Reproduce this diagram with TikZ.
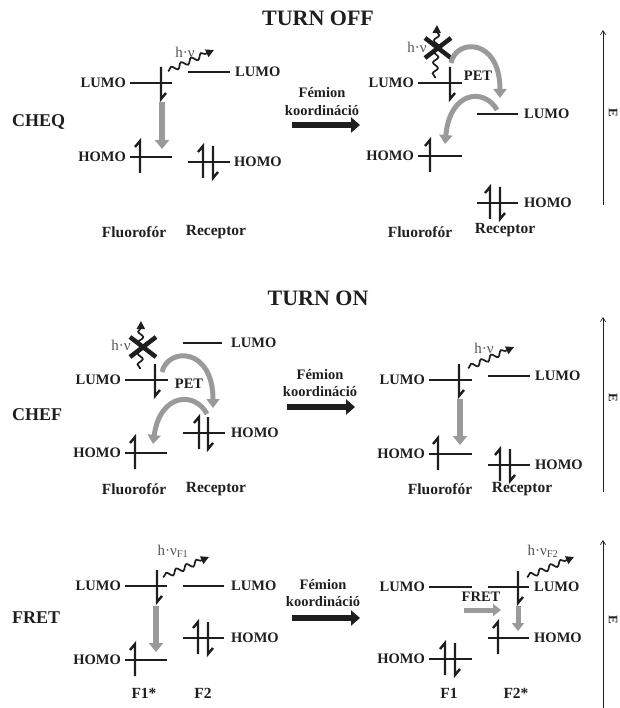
\documentclass[tikz,border=0pt]{standalone}
\usepackage{fontspec}
\setmainfont{Liberation Serif}
\usepackage{tikz}
\usetikzlibrary{arrows.meta,positioning,calc,decorations.pathmorphing}
\usepackage{xcolor}
\definecolor{ink}{HTML}{1E1E1E}
\definecolor{petgray}{HTML}{9A9A9A}
\definecolor{hvgray}{HTML}{555555}

% energy level, electrons
\newcommand{\enlevel}[3]{\draw[levelline] (#1,#3) -- (#2,#3);}
\newcommand{\elup}[2]{\draw[electron] (#1,#2+16) -- (#1,#2-16) -- ++(-5,6);}
\newcommand{\eldown}[2]{\draw[electron] (#1,#2-16) -- (#1,#2+16) -- ++(5,-6);}

\begin{document}
\begin{tikzpicture}[x=1pt, y=-1pt,
  levelline/.style={ink, line width=2pt},
  electron/.style={ink, line width=2.4pt, line join=miter},
  lbl/.style={inner sep=0pt, text=ink, font=\fontsize{14.5}{16}\selectfont\bfseries},
  molname/.style={inner sep=0pt, text=ink, font=\fontsize{15.5}{17}\selectfont\bfseries},
  sidename/.style={inner sep=0pt, text=ink, anchor=west, font=\fontsize{18}{20}\selectfont\bfseries},
  heading/.style={inner sep=0pt, text=ink, font=\fontsize{22}{24}\selectfont\bfseries},
  hvtext/.style={inner sep=0pt, text=hvgray, font=\fontsize{15}{17}\selectfont},
  photon/.style={ink, line width=1.7pt, decorate, -{Triangle[length=8pt, width=8pt]},
    decoration={snake, amplitude=2.6pt, segment length=11pt, pre length=1pt, post length=6pt}},
  relax/.style={petgray, line width=6pt, -{Triangle[length=9pt, width=14pt]}},
  pet/.style={petgray, line width=5pt, -{Triangle[length=9pt, width=13pt]}},
  metal/.style={ink, line width=6pt, -{Triangle[length=9pt, width=15pt]}},
  eaxis/.style={ink, line width=0.7pt, -{Straight Barb[length=4pt, width=5pt]}},
  quench/.style={ink, line width=4.5pt}]
  \useasboundingbox (0,0) rectangle (619,708);

  % Headings
  \node[heading] (offtitle) at (318,18) {TURN OFF};
  \node[heading] (ontitle) at (318,298) {TURN ON};

  % ---------- CHEQ, free ----------
  \node[sidename] (cheq) at (12,122) {CHEQ};
  \enlevel{130}{172}{83}  \node[lbl, anchor=east] (aflL) at (126,83) {LUMO};
  \enlevel{130}{172}{157} \node[lbl, anchor=east] (aflH) at (126,157) {HOMO};
  \enlevel{188}{230}{72}  \node[lbl, anchor=west] (arcL) at (235,72) {LUMO};
  \enlevel{188}{230}{162} \node[lbl, anchor=west] (arcH) at (234,162) {HOMO};
  \eldown{161}{83}
  \elup{140}{157}
  \elup{203}{162} \eldown{213}{162}
  \draw[relax] (162,102) -- (162,149);
  \draw[photon] (168,71) -- (214,50);
  \node[hvtext] (ahv) at (185,52) {h·ν};
  \node[molname] (afl) at (134,232) {Fluorofór};
  \node[molname] (arc) at (216,232) {Receptor};

  % metal ion
  \node[lbl] (am1) at (322,93) {Fémion};
  \node[lbl] (am2) at (322,111) {koordináció};
  \draw[metal] (292,125) -- (360,125);

  % ---------- CHEQ, bound ----------
  \enlevel{418}{462}{83}  \node[lbl, anchor=east] (bflL) at (414,83) {LUMO};
  \enlevel{418}{462}{156} \node[lbl, anchor=east] (bflH) at (414,156) {HOMO};
  \enlevel{477}{518}{114} \node[lbl, anchor=west] (brcL) at (524,114) {LUMO};
  \enlevel{477}{518}{203} \node[lbl, anchor=west] (brcH) at (524,203) {HOMO};
  \eldown{450}{83}
  \elup{430}{156}
  \elup{490}{203} \eldown{500}{203}
  \draw[photon] (435,78) -- (437,25);
  \draw[quench] (425,38) -- (451,58) (425,58) -- (451,38);
  \node[hvtext] (bhv) at (417,47) {h·ν};
  \draw[pet] (451,63) .. controls (456,38) and (500,38) .. (500,98);
  \draw[pet] (497,110) .. controls (485,88) and (450,90) .. (445,144);
  \node[lbl] (bpet) at (478,76) {PET};
  \node[molname] (bfl) at (420,232) {Fluorofór};
  \node[molname] (brc) at (505,230) {Receptor};
  \draw[eaxis] (603,205) -- (603,30);
  \node[inner sep=0pt, text=ink, rotate=-90, font=\fontsize{13}{14}\selectfont\bfseries] (be) at (613,113) {E};

  % ---------- CHEF, free ----------
  \node[sidename] (chef) at (12,415) {CHEF};
  \enlevel{125}{168}{380} \node[lbl, anchor=east] (cflL) at (121,380) {LUMO};
  \enlevel{125}{167}{453} \node[lbl, anchor=east] (cflH) at (121,453) {HOMO};
  \enlevel{183}{222}{343} \node[lbl, anchor=west] (crcL) at (231,343) {LUMO};
  \enlevel{183}{225}{433} \node[lbl, anchor=west] (crcH) at (231,433) {HOMO};
  \eldown{155}{380}
  \elup{135}{453}
  \elup{199}{433} \eldown{208}{433}
  \draw[photon] (140,369) -- (141,321);
  \draw[quench] (130,337) -- (156,357) (130,357) -- (156,337);
  \node[hvtext] (chv) at (121,345) {h·ν};
  \draw[pet] (162,372) .. controls (168,347) and (213,347) .. (213,408);
  \draw[pet] (207,414) .. controls (195,391) and (160,393) .. (153,444);
  \node[lbl] (cpet) at (189,384) {PET};
  \node[molname] (cfl) at (134,489) {Fluorofór};
  \node[molname] (crc) at (216,489) {Receptor};

  % metal ion
  \node[lbl] (cm1) at (320,375) {Fémion};
  \node[lbl] (cm2) at (320,392) {koordináció};
  \draw[metal] (287,407) -- (355,407);

  % ---------- CHEF, bound ----------
  \enlevel{429}{472}{380} \node[lbl, anchor=east] (dflL) at (425,380) {LUMO};
  \enlevel{429}{472}{454} \node[lbl, anchor=east] (dflH) at (425,454) {HOMO};
  \enlevel{488}{530}{376} \node[lbl, anchor=west] (drcL) at (535,376) {LUMO};
  \enlevel{488}{530}{465} \node[lbl, anchor=west] (drcH) at (535,465) {HOMO};
  \eldown{459}{380}
  \elup{438}{454}
  \elup{500}{465} \eldown{510}{465}
  \draw[relax] (460,399) -- (460,445);
  \draw[photon] (468,368) -- (514,347);
  \node[hvtext] (dhv) at (484,348) {h·ν};
  \node[molname] (dfl) at (440,489) {Fluorofór};
  \node[molname] (drc) at (522,489) {Receptor};
  \draw[eaxis] (603,492) -- (603,317);
  \node[inner sep=0pt, text=ink, rotate=-90, font=\fontsize{13}{14}\selectfont\bfseries] (de) at (613,398) {E};

  % ---------- FRET, free ----------
  \node[sidename] (fret) at (12,618) {FRET};
  \enlevel{125}{167}{586} \node[lbl, anchor=east] (eaL) at (121,586) {LUMO};
  \enlevel{125}{167}{660} \node[lbl, anchor=east] (eaH) at (121,660) {HOMO};
  \enlevel{183}{224}{586} \node[lbl, anchor=west] (ebL) at (231,586) {LUMO};
  \enlevel{183}{224}{638} \node[lbl, anchor=west] (ebH) at (231,638) {HOMO};
  \eldown{157}{586}
  \elup{135}{660}
  \elup{198}{638} \eldown{208}{638}
  \draw[relax] (156,606) -- (156,652);
  \draw[photon] (163,577) -- (209,557);
  \node[hvtext] (ehv) at (173,551) {h·ν\textsubscript{F1}};
  \node[molname] (ea) at (144,693) {F1*};
  \node[molname] (eb) at (203,693) {F2};

  % metal ion
  \node[lbl] (em1) at (323,585) {Fémion};
  \node[lbl] (em2) at (323,602) {koordináció};
  \draw[metal] (292,618) -- (360,618);

  % ---------- FRET, bound ----------
  \enlevel{429}{472}{587} \node[lbl, anchor=east] (faL) at (425,587) {LUMO};
  \enlevel{429}{472}{659} \node[lbl, anchor=east] (faH) at (425,659) {HOMO};
  \enlevel{488}{529}{587} \node[lbl, anchor=west] (fbL) at (534,587) {LUMO};
  \enlevel{488}{529}{638} \node[lbl, anchor=west] (fbH) at (534,638) {HOMO};
  \eldown{518}{587}
  \elup{498}{638}
  \elup{445}{659} \eldown{455}{659}
  \node[lbl] (ffret) at (481,597) {FRET};
  \draw[relax, line width=5pt, -{Triangle[length=8pt, width=12pt]}] (464,610) -- (501,610);
  \draw[relax, line width=5pt, -{Triangle[length=8pt, width=12pt]}] (518,606) -- (518,631);
  \draw[photon] (527,577) -- (574,557);
  \node[hvtext] (fhv) at (543,551) {h·ν\textsubscript{F2}};
  \node[molname] (fa) at (449,693) {F1};
  \node[molname] (fb) at (516,693) {F2*};
  \draw[eaxis] (603,708) -- (603,540);
  \node[inner sep=0pt, text=ink, rotate=-90, font=\fontsize{13}{14}\selectfont\bfseries] (fe) at (613,620) {E};
\end{tikzpicture}
\end{document}
